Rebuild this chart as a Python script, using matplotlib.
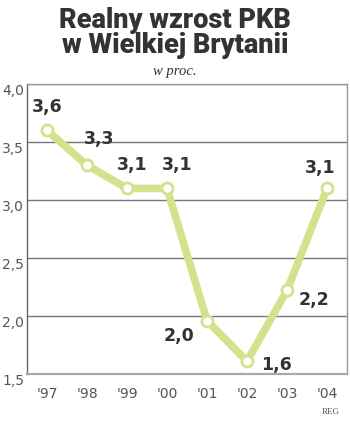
import matplotlib
matplotlib.use("Agg")
import matplotlib.pyplot as plt
from matplotlib import font_manager

years = ["'97", "'98", "'99", "'00", "'01", "'02", "'03", "'04"]
values = [3.6, 3.3, 3.1, 3.1, 1.96, 1.61, 2.22, 3.1]
labels = ["3,6", "3,3", "3,1", "3,1", "2,0", "1,6", "2,2", "3,1"]
yticks = [1.5, 2.0, 2.5, 3.0, 3.5, 4.0]
yticklabels = ["1,5", "2,0", "2,5", "3,0", "3,5", "4,0"]
# label offsets in points (dx, dy)
offsets = [(0, 17), (9, 19), (4, 16.5), (7, 16.5), (-20, -11), (21, -3), (19.5, -6.5), (-5, 14.5)]

names = {f.name for f in font_manager.fontManager.ttflist}
title_font = "Liberation Sans Narrow" if "Liberation Sans Narrow" in names else "Roboto"

fig = plt.figure(figsize=(3.5, 4.23), dpi=100)
ax = fig.add_axes([27/350, 1-374/423, 320/350, 290/423])

x = list(range(len(years)))
line_color = "#d5e18d"
ax.plot(x, values, color=line_color, lw=5.5, solid_capstyle="round", zorder=3)
ax.plot(x, values, ls="none", marker="o", ms=8, mfc="white", mec=line_color, mew=2.0, zorder=4)

for xi, v, lab, (dx, dy) in zip(x, values, labels, offsets):
    ax.annotate(lab, (xi, v), xytext=(dx, dy), textcoords="offset points",
                ha="center", va="center", fontsize=12.5, fontweight="bold",
                color="#333333", family="DejaVu Sans", zorder=5)

ax.set_xlim(-0.5, 7.5)
ax.set_ylim(1.5, 4.0)
ax.set_yticks(yticks)
ax.set_yticklabels(yticklabels)
ax.set_xticks(x)
ax.set_xticklabels(years)
ax.tick_params(length=0, labelsize=10, colors="#555555")
ax.tick_params(axis="y", pad=2)
ax.tick_params(axis="x", pad=9)
for lab in ax.get_xticklabels() + ax.get_yticklabels():
    lab.set_family("DejaVu Sans")
for lab in ax.get_yticklabels():
    lab.set_va("top")
ax.grid(axis="y", color="#777777", lw=1)
ax.set_axisbelow(True)
for s in ax.spines.values():
    s.set_color("#999999")
    s.set_linewidth(1)
ax.spines["left"].set_color("#666666")
ax.spines["bottom"].set_linewidth(1.6)
ax.spines["bottom"].set_color("#aaaaaa")

fig.text(0.5, 1-28/423, "Realny wzrost PKB", ha="center", va="baseline",
         fontsize=19.5, fontweight="black", color="#333333", family=title_font)
fig.text(0.5, 1-53/423, "w Wielkiej Brytanii", ha="center", va="baseline",
         fontsize=19.5, fontweight="black", color="#333333", family=title_font)
fig.text(0.5, 1-75/423, "w proc.", ha="center", va="baseline",
         fontsize=10.5, style="italic", color="#333333", family="Liberation Serif")
fig.text(331/350, 1-412/423, "REG", ha="center", va="center",
         fontsize=6.5, color="#555555", family="Liberation Serif")

fig.savefig("out.png", dpi=100)
